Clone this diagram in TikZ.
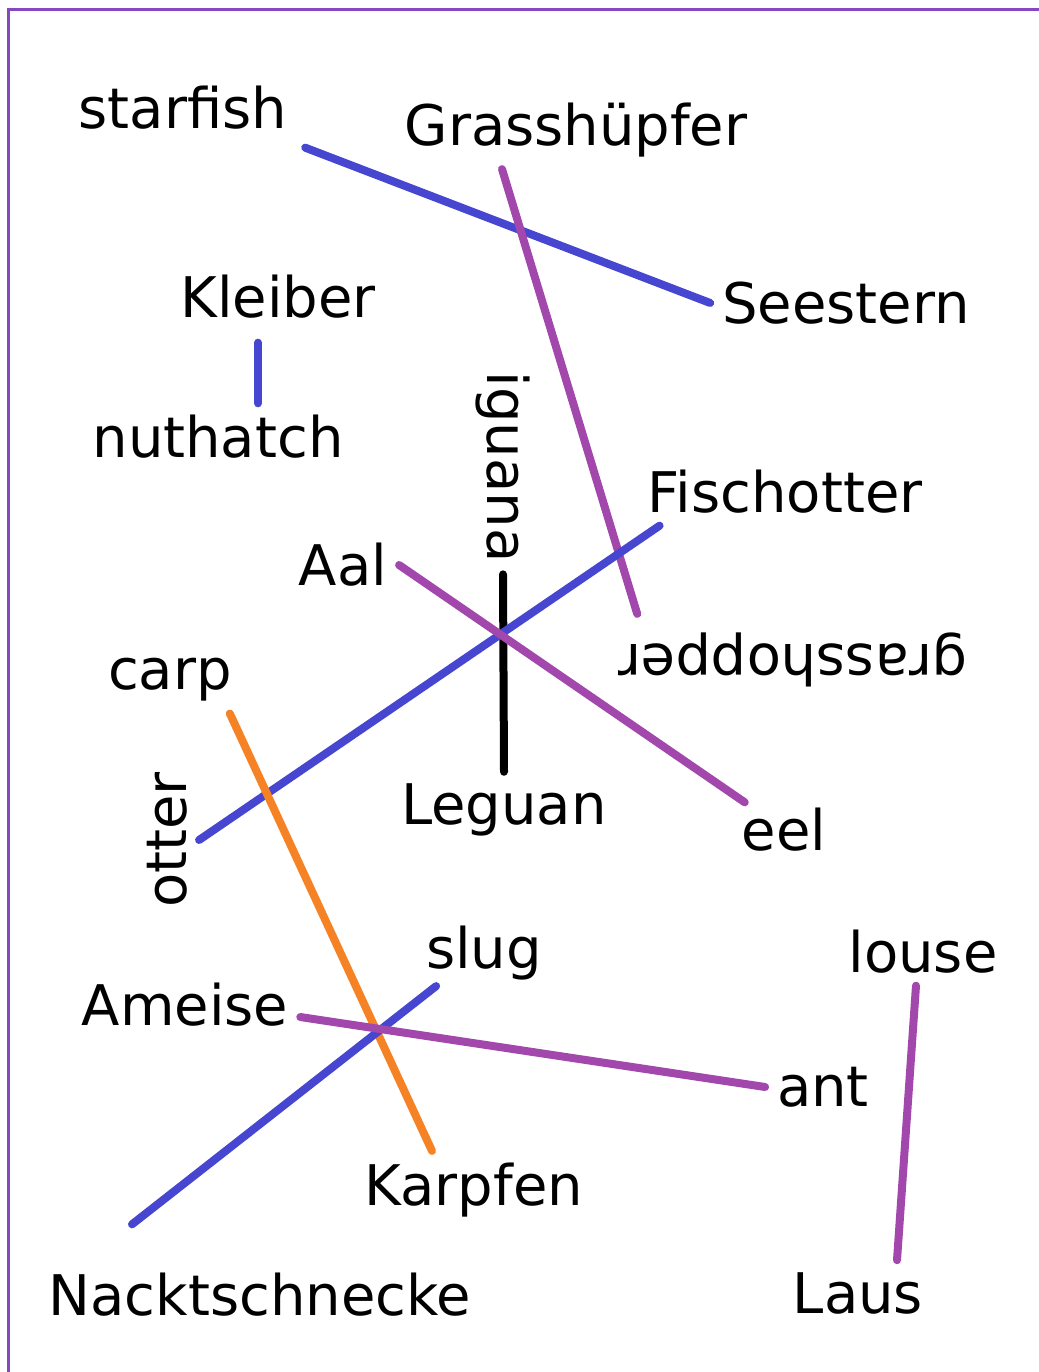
\documentclass[tikz,border=0pt]{standalone}
\usepackage{fontspec}
\setmainfont{DejaVu Sans}

\newcommand{\wordfont}{\fontsize{56}{60}\selectfont}

\definecolor{framepurple}{RGB}{132,72,192}
\definecolor{lineblue}{RGB}{70,70,208}
\definecolor{linepurple}{RGB}{162,72,172}
\definecolor{lineorange}{RGB}{246,130,38}

\begin{document}
\begin{tikzpicture}[x=1pt, y=-1pt,
    word/.style={shape=rectangle, font=\wordfont, inner sep=4pt, outer sep=8pt},
    link/.style={line width=8pt, line cap=round},
    bluelink/.style={link, draw=lineblue},
    purplelink/.style={link, draw=linepurple},
    orangelink/.style={link, draw=lineorange},
    blacklink/.style={link, draw=black}]

    \useasboundingbox (0,0) rectangle (1038,1372);
    \draw[framepurple, line width=3pt] (1040,10) -- (8,10) -- (8,1374);

    \node[word] (Starfish) at (183,108) {starfish};

    \node[word] (Grasshuepfer) at (576,130) {Grasshüpfer};

    \node[word] (Seestern) at (846,303) {Seestern};

    \node[word] (Kleiber) at (278,297) {Kleiber};

    \node[word] (Nuthatch) at (218,437) {nuthatch};

    \node[word, rotate=-90] (Iguana) at (503,467) {iguana};

    \node[word] (Fischotter) at (785,492) {Fischotter};

    \node[word] (Aal) at (343,565) {Aal};

    \node[word, rotate=180] (Grasshopper) at (793,660) {grasshopper};

    \node[word] (Carp) at (170,680) {carp};

    \node[word, rotate=90] (Otter) at (167,840) {otter};

    \node[word] (Leguan) at (504,810) {Leguan};

    \node[word] (Eel) at (784,830) {eel};

    \node[word] (Slug) at (484,953) {slug};

    \node[word] (Louse) at (923,952) {louse};

    \node[word] (Ameise) at (185,1005) {Ameise};

    \node[word] (Ant) at (823,1087) {ant};

    \node[word] (Karpfen) at (474,1190) {Karpfen};

    \node[word] (Nacktschnecke) at (260,1295) {Nacktschnecke};

    \node[word] (Laus) at (858,1293) {Laus};


    \path [bluelink] ([xshift=6pt, yshift=-6pt]Starfish.south east) edge (Seestern.west);
    \path [purplelink] ([xshift=-74pt]Grasshuepfer.south) edge ([xshift=31pt, yshift=7pt]Grasshopper.south east);
    \path [bluelink] ([xshift=-20pt, yshift=-12pt]Kleiber.south) edge ([xshift=40pt]Nuthatch.north);
    \path [blacklink] (Iguana.east) edge (Leguan.north);
    \path [bluelink] ([xshift=24pt]Fischotter.south west) edge (Otter.south);
    \path [purplelink] (Aal.east) edge ([xshift=15pt, yshift=-6pt]Eel.north west);
    \path [orangelink] ([xshift=-14pt]Carp.south east) edge ([xshift=-42pt]Karpfen.north);
    \path [bluelink] ([xshift=22pt, yshift=6pt]Slug.south west) edge ([xshift=-128pt, yshift=37pt]Nacktschnecke.north);
    \path [purplelink] ([yshift=-12pt]Ameise.east) edge (Ant.west);
    \path [purplelink] ([xshift=-7pt]Louse.south) edge ([xshift=39pt]Laus.north);

\end{tikzpicture}
\end{document}
